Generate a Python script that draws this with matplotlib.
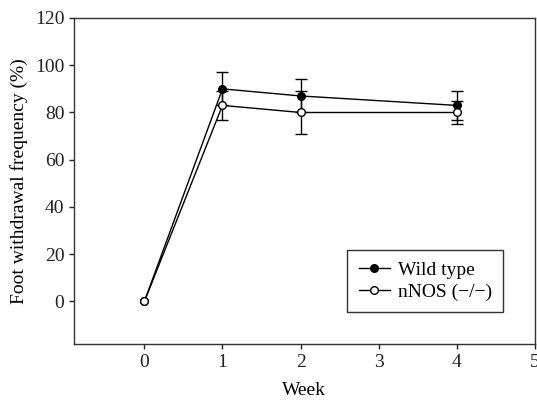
import matplotlib
matplotlib.use('Agg')
import matplotlib.pyplot as plt

weeks = [0, 1, 2, 4]
wild = [0, 90, 87, 83]
wild_err = [0, 7, 7, 6]
nnos = [0, 83, 80, 80]
nnos_err = [0, 6, 9, 5]

plt.rcParams['font.family'] = ['Liberation Serif', 'DejaVu Serif']
plt.rcParams['font.size'] = 14

fig = plt.figure(figsize=(5.37, 4.0), dpi=100)
ax = fig.add_axes([0.138, 0.14, 0.858, 0.815])

# error bars only where there is a spread (week 0 has none)
for y, e in [(wild, wild_err), (nnos, nnos_err)]:
    idx = [i for i in range(len(weeks)) if e[i] > 0]
    ax.errorbar([weeks[i] for i in idx], [y[i] for i in idx], yerr=[e[i] for i in idx],
                fmt='none', ecolor='black', capsize=4, elinewidth=1)

ax.plot(weeks, wild, color='black', marker='o', markersize=5.5,
        markerfacecolor='black', lw=1, label='Wild type')
ax.plot(weeks, nnos, color='black', marker='o', markersize=5.5,
        markerfacecolor='white', lw=1, label='nNOS (\u2212/\u2212)')

ax.set_xlim(-0.9, 4.97)
ax.set_ylim(-18, 120)
ax.set_xticks([0, 1, 2, 3, 4, 5])
ax.set_yticks([0, 20, 40, 60, 80, 100, 120])
ax.tick_params(direction='out', length=3.5, width=1, labelsize=14, colors='#222222')
for s in ax.spines.values():
    s.set_linewidth(1)
    s.set_color('#333333')

ax.set_xlabel('Week', fontsize=14, labelpad=8)
ax.set_ylabel('Foot withdrawal frequency (%)', fontsize=14, labelpad=5)

leg = ax.legend(loc='lower right', bbox_to_anchor=(0.953, 0.067), fancybox=False,
                edgecolor='black', fontsize=14, handlelength=1.6, borderpad=0.6,
                labelspacing=0.2, handletextpad=0.4)
leg.get_frame().set_linewidth(1)

fig.savefig('out.png', dpi=100)
